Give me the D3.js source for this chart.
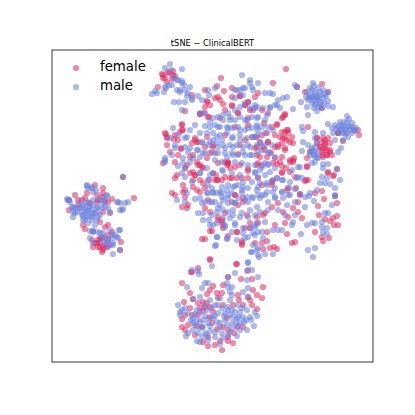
<!DOCTYPE html>
<html lang="en">
<head>
<meta charset="UTF-8">
<title>tSNE - ClinicalBERT</title>
<script src="https://d3js.org/d3.v7.min.js"></script>
<style>
  html, body { margin: 0; padding: 0; background: #fff; }
  text { font-family: "DejaVu Sans", sans-serif; fill: #000; }
</style>
</head>
<body>
<div id="chart"></div>
<script>
// embedding values, x then y (arbitrary tSNE units)
const femaleTopLeft = [[110,24],[113,28],[117,23],[121,21],[115,32],[111,25],[123,26],[120,29],[106,37],[133,61],[155,52],[158,55],[153,57],[140,45],[153,40],[148,64],[152,63],[157,67],[116,22],[121,25],[111,28]];
const maleTopLeft = [[118,14],[113,18],[119,20],[130,19],[122,28],[126,30],[130,31],[132,35],[128,42],[125,40],[135,46],[133,52],[122,52],[127,52],[105,43],[100,44],[103,41],[114,38],[112,42],[117,35],[140,48],[146,46],[157,45],[163,38],[138,37],[150,50],[130,60],[128,40],[133,40],[125,30],[120,35],[113,37],[130,33],[136,43],[140,50],[148,63],[153,63],[156,40]];

const femaleMain = [[130,75],[131,80],[128,82],[114,84],[115,88],[122,89],[126,90],[115,95],[143,88],[145,92],[140,93],[129,98],[155,87],[153,97],[161,97],[118,102],[141,105],[158,103],[138,107],[126,105],
  [169,28],[172,41],[221,33],[166,47],[180,47],[188,46],[206,43],[196,52],[180,55],[193,55],[173,60],[186,63],[198,60],[203,47],[210,60],[216,63],[233,64],[231,67],[212,73],[225,74],[196,68],[220,77],[210,85],[215,83],[233,82],[236,80],[231,88],[240,87],[235,90],[216,92],[226,95],[186,104],[203,98],[223,97],[233,100],[241,93],[242,108],[211,97],[193,90],[205,105],[230,107],[219,103],[173,85],[168,68],[183,77],[200,87],[234,19],
  [166,113],[176,113],[173,112],[183,117],[196,121],[188,115],[206,113],[225,114],[230,116],[238,112],[241,112],[234,118],[255,116],[230,123],[166,130],[173,127],[185,128],[178,128],[196,128],[220,135],[254,130],[276,123],[282,125],[238,122],[183,145],[191,148],[220,157],[213,163],[211,165],[236,167],[241,158],[246,152],[272,149],[266,156],[285,153],[267,165],[285,166],[282,175],[286,175],[278,171],[263,182],[271,191],[277,188],[270,187],[235,184],[240,193],[243,192],[190,193],[190,191],[185,182],[171,178],[203,193],[210,193],[215,191],[211,199],[218,198],[222,197],[225,199],[185,214],[166,167],[173,163],[180,152],[205,167],[198,173],[215,182],[193,178],[206,173],[226,153],[250,168],[246,162],[231,162],[170,172],[186,155],[233,173],[164,125],[165,130],[170,130],[196,119],[206,128],[273,169],[281,168],[263,143],[270,141],[244,138],[223,175],[285,119],[283,146],[248,144],
  [111,113],[123,128],[125,125],[131,135],[133,140],[131,142],[120,143],[123,145],[133,147],[130,157],[135,158],[136,155],[141,122],[138,123],[143,125],[150,117],[151,133],[153,138],[141,137],[148,142],[157,130],[153,158],[158,162],[156,150],[150,189],[153,189],[158,209],[160,181],[161,123],[123,112],[145,112],[148,130],[141,130],[133,118]];
const femaleCentre = [[165,36],[155,51],[163,48],[168,50],[171,54],[180,56],[186,63],[193,55],[196,52],[201,60],[188,46],[180,38],[148,64],[156,67],[130,74],[130,80],[113,83],[115,87],[123,85],[143,90],[146,92],[161,95],[129,99],[155,108],[176,112],[175,115],[146,115],[151,118],[163,103],[196,75],[205,87],[188,95],
  [145,140],[163,130],[180,128],[190,128],[176,113],[178,118],[170,170],[166,170],[171,175],[158,181],[176,186],[190,195],[185,182],[198,178],[195,165],[183,145],[191,152],[148,115],[135,115],[143,125],
  [233,65],[230,68],[225,75],[235,80],[230,82],[236,83],[233,88],[228,87],[223,85],[238,92],[230,93],[226,97],[233,98],[241,110],[238,110],[223,108],[221,113],[228,112],[216,92],[208,92],[213,100],[205,97],[208,107],[215,107],[205,115],[210,115],[230,122],[255,108],[255,117],[276,122],[281,126],[256,130],[253,131],[243,127],[221,130],[220,132],[235,140],[236,138],[210,135],[248,145]];
const maleMain = [[121,78],[138,80],[143,75],[148,83],[153,76],[158,72],[135,87],[150,92],[133,97],[123,95],[113,108],[120,105],[145,100],[161,90],[136,102],[151,103],[157,95],
  [190,25],[198,30],[206,33],[185,40],[191,38],[200,37],[183,48],[191,45],[213,43],[218,43],[221,44],[231,48],[235,47],[226,50],[241,59],[225,55],[218,57],[203,58],[178,67],[171,70],[183,70],[193,70],[205,68],[213,70],[176,78],[166,77],[188,80],[196,78],[205,77],[170,90],[180,88],[188,90],[196,95],[173,98],[181,97],[210,100],[216,103],[191,102],[166,97],[175,107],[198,105],[165,87],[181,105],[208,93],[223,107],[203,87],
  [171,121],[180,123],[188,125],[203,123],[210,117],[216,114],[223,118],[240,120],[248,117],[263,112],[271,114],[276,114],[270,127],[275,128],[288,130],[268,133],[273,133],[278,134],[283,138],[283,145],[265,140],[258,143],[257,146],[262,151],[246,127],[250,128],[230,130],[225,128],[220,131],[215,135],[208,133],[200,132],[191,132],[183,136],[176,135],[170,137],[196,138],[190,140],[205,140],[221,142],[230,142],[237,138],[238,145],[231,148],[223,148],[213,145],[208,148],[200,147],[193,150],[186,148],[176,145],[170,147],[165,143],[176,153],[168,155],[181,160],[190,163],[198,160],[205,157],[216,160],[226,160],[235,155],[243,152],[253,157],[260,173],[255,175],[263,173],[270,172],[273,163],[276,163],[270,177],[275,178],[271,182],[275,184],[280,155],[249,184],[241,172],[240,175],[233,165],[226,180],[221,180],[210,182],[203,177],[196,187],[191,183],[183,175],[178,168],[171,168],[165,162],[165,187],[175,189],[164,195],[199,202],[206,205],[206,198],[213,204],[221,204],[256,200],[263,198],[261,207],[196,213],[205,173],[213,172],[230,180],[243,165],[216,152],[183,153],[168,142],[201,195],[185,190],[180,182],[173,177],[198,178],[203,185],[211,188],[285,119],[283,146],[248,144],[243,139],
  [113,112],[126,116],[131,113],[138,112],[148,123],[130,123],[133,127],[140,132],[125,150],[143,149],[148,148],[153,152],[160,152],[146,163],[151,163],[151,170],[160,165],[157,170],[158,175],[161,143],[155,143],[150,153],[163,196],[160,138],[155,118],[158,125],[156,135],[133,118]];
const maleCentre = [[161,68],[166,67],[171,65],[176,63],[183,60],[188,57],[193,53],[198,58],[203,55],[188,40],[193,38],[198,33],[201,40],[183,40],[178,70],[188,67],[195,70],[200,67],[158,77],[163,75],[168,77],[175,77],[180,78],[186,77],[193,80],[200,78],[206,80],[155,83],[161,83],[168,85],[175,83],[181,87],[188,85],[195,88],[201,87],[151,93],[158,92],[165,93],[171,95],[178,95],[185,95],[191,97],[198,97],[205,95],[146,100],[153,103],[160,102],[166,103],[173,103],[180,103],[186,105],[193,105],[200,105],[148,107],[141,108],[163,110],[170,112],[183,112],[190,113],[196,115],[203,115],[126,85],[118,88],[133,88],[138,98],[123,98],[113,110],[131,108],
  [161,123],[170,120],[148,123],[156,130],[181,137],[186,135],[191,137],[175,140],[180,143],[170,143],[161,142],[156,143],[163,152],[158,152],[171,150],[176,148],[183,153],[196,152],[201,148],[206,145],[195,147],[190,143],[166,158],[171,160],[176,162],[181,165],[188,167],[196,167],[203,165],[208,162],[161,175],[165,173],[173,175],[183,173],[191,178],[203,175],[201,183],[206,182],[175,188],[165,187],[135,143],[133,152],[193,188],[205,200],[200,202],
  [205,57],[211,58],[218,58],[223,55],[228,58],[215,65],[206,67],[205,75],[210,77],[216,77],[221,80],[213,83],[205,85],[220,95],[213,95],[206,102],[218,102],[213,113],[208,120],[216,115],[213,125],[206,127],[218,122],[203,122],[206,137],[215,133],[223,138],[230,142],[236,145],[223,147],[210,145],[215,142],[225,128],[231,130],[238,132],[245,128],[253,147],[246,117]];

const femaleRight = [[270,34],[253,42],[270,58],[276,42],[245,37],[307,85],[286,83],[291,91],[306,80],[271,88],[265,88],[278,93],[273,93],[268,97],[273,98],[278,100],[270,102],[275,105],[271,107],[280,105],[258,102],[256,77],
  [270,92],[273,95],[268,97],[271,100],[275,100],[273,90],[265,93],[278,102],[265,88],[276,88],[270,105],[275,105],[286,83]];
const maleRight = [[261,33],[255,42],[260,40],[266,38],[271,40],[276,42],[258,45],[263,45],[268,45],[256,50],[261,50],[266,50],[271,48],[263,55],[268,55],[260,53],[255,57],[265,61],[249,52],[281,57],[276,51],[276,56],[256,65],[243,35],[245,37],[270,58],[265,48],[261,47],[266,47],
  [258,38],[262,36],[268,42],[273,44],[257,48],[263,42],[269,52],[262,58],[259,47],[264,52],[267,57],[272,53],[254,47],[274,46],
  [295,66],[288,72],[295,72],[300,73],[283,75],[276,74],[280,78],[286,77],[291,76],[296,76],[301,77],[288,80],[293,80],[298,80],[303,81],[295,83],[291,83],[300,83],[281,83],
  [292,72],[297,69],[284,79],[289,75],[294,78],[298,77],[302,80],[293,84],[296,87],[290,79],[287,83],[304,78],
  [250,77],[251,81],[251,92],[256,95],[263,97],[260,100],[263,102],[258,105],[266,107],[262,105],[289,98],[286,102],[250,101],[265,93],[263,82],[271,83],[263,88],[260,98],[265,102],[258,102],[263,107],[266,108],[260,113],[271,118],[291,90],[283,90]];

const femaleLeft = [[23,145],[43,135],[51,138],[35,143],[45,145],[51,143],[26,150],[60,149],[56,152],[17,160],[82,148],[48,172],[58,163],[31,175],[33,179],[53,152],[51,162],[38,153],[45,152],[71,127],[17,150],[41,181],[30,150],[33,148],[46,150],[51,147],[26,155],
  [56,175],[53,177],[40,190],[48,188],[43,193],[48,193],[53,195],[46,197],[51,198],[56,185],[58,195],[69,192],[50,202],[60,182],[68,200],[46,190],[50,188],[56,190],[48,197],[51,200],[55,197],[41,197],[45,193]];
const maleLeft = [[35,136],[40,138],[44,140],[15,149],[18,152],[28,152],[36,152],[41,150],[48,150],[55,146],[21,157],[26,158],[31,157],[36,157],[41,155],[46,157],[53,157],[56,158],[25,162],[30,162],[35,162],[40,160],[45,162],[31,166],[36,166],[41,165],[48,165],[33,170],[40,170],[45,170],[21,167],[58,162],[66,152],[73,153],[76,152],[68,160],[71,159],[23,163],[43,175],[36,173],[53,150],[71,127],[17,150],[41,181],
  [28,158],[31,155],[35,153],[38,157],[45,158],[33,160],[36,161],[40,163],[43,163],[30,165],[35,167],[40,167],[46,167],[31,170],[23,158],[21,162],[20,157],[50,158],[51,153],[55,145],[48,148],[41,142],[36,138],[35,135],[40,137],[16,150],[68,153],[65,152],[70,160],
  [38,181],[46,182],[51,183],[58,180],[67,180],[63,185],[66,188],[56,190],[61,193],[56,197],[41,193],[61,204],[53,188],[60,188],[51,192],[68,200],[41,182],[48,183],[51,187],[60,185],[65,187],[68,180],[61,195],[55,193],[38,188]];

const femaleBottom = [[158,210],[184,214],[139,222],[146,218],[196,220],[189,229],[200,229],[130,233],[171,235],[161,236],[158,240],[201,240],[211,237],[138,243],[155,244],[165,243],[170,243],[205,245],[210,248],[187,250],[146,253],[151,252],[158,257],[153,257],[132,252],[138,258],[171,255],[181,255],[191,255],[200,255],[205,259],[133,265],[130,269],[151,261],[146,265],[136,275],[130,277],[133,280],[145,276],[185,277],[156,296],[151,292],[163,295],[168,291],[176,291],[181,293],[176,287],[156,287],[160,273],[171,277],[176,280],[161,262],[191,277],[143,285],[150,277],[170,300],[140,222],[176,227],[196,247],[141,249],
  [155,253],[166,248],[148,258],[175,268],[165,279],[140,265],[182,283],[157,268],[198,250],[186,245]];
const maleBottom = [[196,212],[207,207],[160,216],[146,221],[147,224],[140,220],[183,223],[176,227],[195,221],[200,220],[206,227],[195,230],[153,233],[156,233],[135,237],[150,238],[180,237],[176,237],[178,242],[175,233],[191,242],[196,238],[196,247],[148,247],[141,249],[126,255],[128,262],[128,265],[141,268],[148,262],[155,260],[166,255],[176,257],[183,262],[188,262],[195,260],[203,262],[205,266],[198,267],[191,267],[185,268],[178,265],[173,263],[166,263],[158,267],[151,270],[145,270],[136,263],[130,260],[202,276],[195,280],[188,273],[180,273],[173,270],[165,272],[156,273],[148,278],[141,280],[136,283],[134,286],[145,291],[150,287],[163,282],[170,283],[176,285],[185,286],[158,281],[153,283],[168,294],[156,290],[171,288],[148,292],[180,278],[188,280],[141,273],[161,268],[168,273],[176,260],[181,267],[151,277],[163,255],[145,260],[158,250],[186,255],
  [152,255],[160,258],[170,258],[180,260],[190,258],[143,264],[153,266],[163,266],[172,266],[187,267],[194,270],[148,272],[158,276],[168,277],[175,275],[184,272],[192,272],[146,283],[155,285],[163,287],[178,282],[186,276],[143,275],[139,270],[133,258],[199,270],[168,248],[178,250],[180,245]];

const seriesNames = ["female", "male"];
const seriesColors = ["#e0285f", "#6a80dc"];
const series = [
  [...femaleTopLeft, ...femaleMain, ...femaleCentre, ...femaleRight, ...femaleLeft, ...femaleBottom],
  [...maleTopLeft, ...maleMain, ...maleCentre, ...maleRight, ...maleLeft, ...maleBottom]
];

const size = 415;
const margin = {top: 50, right: 42, bottom: 53, left: 52};

const svg = d3.select("#chart").append("svg")
  .attr("width", size)
  .attr("height", size)
  .style("display", "block");

const x = d3.scaleLinear().domain([0, 321]).range([margin.left, size - margin.right]);
const y = d3.scaleLinear().domain([0, 312]).range([margin.top, size - margin.bottom]);

// female first, male is painted over it
series.forEach((pts, i) => {
  svg.append("g").selectAll("circle")
    .data(pts)
    .enter().append("circle")
    .attr("cx", d => x(d[0]))
    .attr("cy", d => y(d[1]))
    .attr("r", 3.1)
    .attr("fill", seriesColors[i])
    .attr("fill-opacity", 0.55);
});

svg.append("rect")
  .attr("x", margin.left)
  .attr("y", margin.top)
  .attr("width", size - margin.left - margin.right)
  .attr("height", size - margin.top - margin.bottom)
  .attr("fill", "none")
  .attr("stroke", "#222")
  .attr("stroke-width", 0.9);

svg.append("text")
  .attr("x", (margin.left + size - margin.right) / 2)
  .attr("y", 46)
  .attr("text-anchor", "middle")
  .attr("font-size", 8.3)
  .text("tSNE \u2212 ClinicalBERT");

// legend
const legend = svg.append("g").selectAll("g")
  .data(seriesNames)
  .enter().append("g")
  .attr("transform", (d, i) => `translate(0,${68 + i * 19})`);
legend.append("circle")
  .attr("cx", 76)
  .attr("r", 3.1)
  .attr("fill", (d, i) => seriesColors[i])
  .attr("fill-opacity", 0.55);
legend.append("text")
  .attr("x", 100)
  .attr("y", 3)
  .attr("font-size", 13.3)
  .text(d => d);
</script>
</body>
</html>
